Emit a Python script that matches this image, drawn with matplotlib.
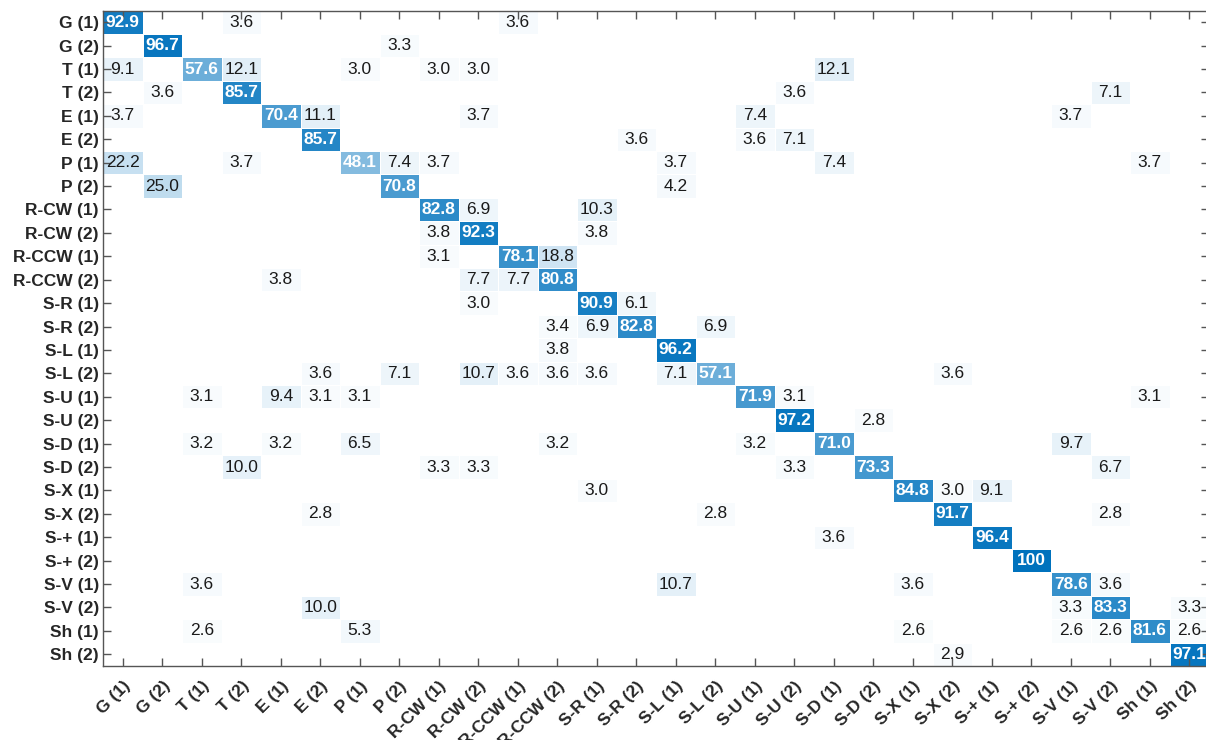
import numpy as np
import matplotlib
matplotlib.use("Agg")
import matplotlib.pyplot as plt
from matplotlib.colors import LinearSegmentedColormap

plt.rcParams['font.family'] = ['Liberation Sans', 'DejaVu Sans']

labels = ['G (1)', 'G (2)', 'T (1)', 'T (2)', 'E (1)', 'E (2)', 'P (1)', 'P (2)',
          'R-CW (1)', 'R-CW (2)', 'R-CCW (1)', 'R-CCW (2)', 'S-R (1)', 'S-R (2)',
          'S-L (1)', 'S-L (2)', 'S-U (1)', 'S-U (2)', 'S-D (1)', 'S-D (2)',
          'S-X (1)', 'S-X (2)', 'S-+ (1)', 'S-+ (2)', 'S-V (1)', 'S-V (2)',
          'Sh (1)', 'Sh (2)']

# non-zero cells of the confusion matrix (row = true, col = predicted), percent
row_idx = [0, 0, 0,
           1, 1,
           2, 2, 2, 2, 2, 2, 2,
           3, 3, 3, 3,
           4, 4, 4, 4, 4, 4,
           5, 5, 5, 5,
           6, 6, 6, 6, 6, 6, 6, 6,
           7, 7, 7,
           8, 8, 8,
           9, 9, 9,
           10, 10, 10,
           11, 11, 11, 11,
           12, 12, 12,
           13, 13, 13, 13,
           14, 14,
           15, 15, 15, 15, 15, 15, 15, 15, 15,
           16, 16, 16, 16, 16, 16, 16,
           17, 17,
           18, 18, 18, 18, 18, 18, 18,
           19, 19, 19, 19, 19, 19,
           20, 20, 20, 20,
           21, 21, 21, 21,
           22, 22,
           23,
           24, 24, 24, 24, 24,
           25, 25, 25, 25,
           26, 26, 26, 26, 26, 26, 26,
           27, 27]
col_idx = [0, 3, 10,
           1, 7,
           0, 2, 3, 6, 8, 9, 18,
           1, 3, 17, 25,
           0, 4, 5, 9, 16, 24,
           5, 13, 16, 17,
           0, 3, 6, 7, 8, 14, 18, 26,
           1, 7, 14,
           8, 9, 12,
           8, 9, 12,
           8, 10, 11,
           4, 9, 10, 11,
           9, 12, 13,
           11, 12, 13, 15,
           11, 14,
           5, 7, 9, 10, 11, 12, 14, 15, 21,
           2, 4, 5, 6, 16, 17, 26,
           17, 19,
           2, 4, 6, 11, 16, 18, 24,
           3, 8, 9, 17, 19, 25,
           12, 20, 21, 22,
           5, 15, 21, 25,
           18, 22,
           23,
           2, 14, 20, 24, 25,
           5, 24, 25, 27,
           2, 6, 20, 24, 25, 26, 27,
           21, 27]
pct = [92.9, 3.6, 3.6,
       96.7, 3.3,
       9.1, 57.6, 12.1, 3.0, 3.0, 3.0, 12.1,
       3.6, 85.7, 3.6, 7.1,
       3.7, 70.4, 11.1, 3.7, 7.4, 3.7,
       85.7, 3.6, 3.6, 7.1,
       22.2, 3.7, 48.1, 7.4, 3.7, 3.7, 7.4, 3.7,
       25.0, 70.8, 4.2,
       82.8, 6.9, 10.3,
       3.8, 92.3, 3.8,
       3.1, 78.1, 18.8,
       3.8, 7.7, 7.7, 80.8,
       3.0, 90.9, 6.1,
       3.4, 6.9, 82.8, 6.9,
       3.8, 96.2,
       3.6, 7.1, 10.7, 3.6, 3.6, 3.6, 7.1, 57.1, 3.6,
       3.1, 9.4, 3.1, 3.1, 71.9, 3.1, 3.1,
       97.2, 2.8,
       3.2, 3.2, 6.5, 3.2, 3.2, 71.0, 9.7,
       10.0, 3.3, 3.3, 3.3, 73.3, 6.7,
       3.0, 84.8, 3.0, 9.1,
       2.8, 2.8, 91.7, 2.8,
       3.6, 96.4,
       100,
       3.6, 10.7, 3.6, 78.6, 3.6,
       10.0, 3.3, 83.3, 3.3,
       2.6, 5.3, 2.6, 2.6, 2.6, 81.6, 2.6,
       2.9, 97.1]

n = len(labels)
mat = np.zeros((n, n))
mat[row_idx, col_idx] = pct

cmap = LinearSegmentedColormap.from_list('mblue', ['#ffffff', '#0072bd'])
ink = '#262626'

fig = plt.figure(figsize=(12.06, 7.40), dpi=100)
ax = fig.add_axes([103 / 1206, 0.1, 1106 / 1206, 655.5 / 740])

ax.pcolormesh(np.arange(n + 1) - 0.5, np.arange(n + 1) - 0.5, mat,
              cmap=cmap, vmin=0, vmax=100, edgecolors='white', linewidth=0.6)
ax.set_xlim(-0.5, n - 0.5)
ax.set_ylim(n - 0.5, -0.5)

for r, c, v in zip(row_idx, col_idx, pct):
    txt = '100' if v == 100 else f'{v:.1f}'
    if v > 40:
        ax.text(c, r, txt, ha='center', va='center', color='white',
                fontsize=12.5, fontweight='bold')
    else:
        ax.text(c, r, txt, ha='center', va='center', color='#1a1a1a',
                fontsize=12.5)

ax.set_xticks(np.arange(n))
ax.set_yticks(np.arange(n))
ax.set_xticklabels(labels, fontsize=12.5, fontweight='bold', color=ink)
ax.set_yticklabels(labels, fontsize=12.5, fontweight='bold', color=ink)
plt.setp(ax.get_xticklabels(), rotation=45, ha='right', va='top',
         rotation_mode='anchor')
ax.tick_params(direction='in', length=6, width=1, color='#555555',
               top=True, right=True)
ax.tick_params(axis='x', pad=9)
ax.tick_params(axis='y', pad=3)
for s in ax.spines.values():
    s.set_color('#555555')
    s.set_linewidth(1)

fig.savefig('out.png', dpi=100)
